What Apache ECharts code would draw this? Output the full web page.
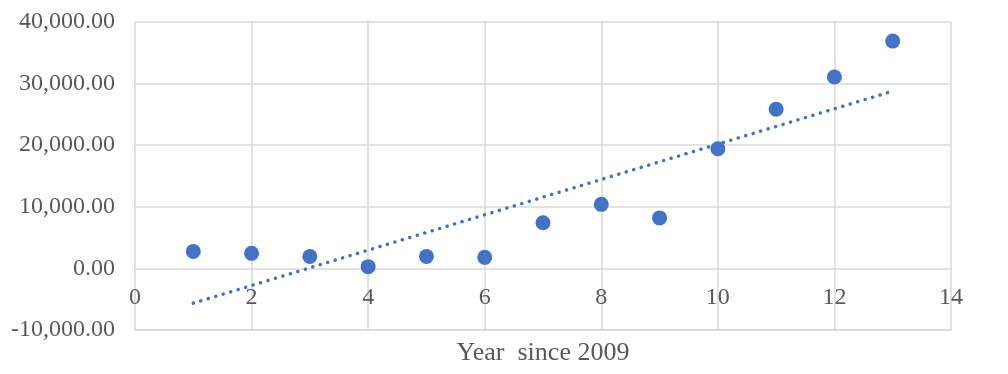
<!DOCTYPE html>
<html>
<head>
<meta charset="utf-8">
<script src="https://cdn.jsdelivr.net/npm/echarts@6/dist/echarts.min.js"></script>
<style>html,body{margin:0;padding:0;background:#fff;}#c{width:1008px;height:374px;}</style>
</head>
<body>
<div id="c"></div>
<script>
var years = [1, 2, 3, 4, 5, 6, 7, 8, 9, 10, 11, 12, 13];
var values = [2760, 2440, 1950, 280, 1950, 1790, 7400, 10400, 8200, 19430, 25850, 31060, 36900];
var xAxisName = 'Year  since 2009';

function fmt(v) {
  var neg = v < 0; var a = Math.abs(v);
  var s = Math.round(a).toString().replace(/\B(?=(\d{3})+(?!\d))/g, ',');
  return (neg ? '-' : '') + s + '.00';
}
// linear trendline (least squares) from the data
var n = years.length, mx = 0, my = 0;
for (var i = 0; i < n; i++) { mx += years[i]; my += values[i]; }
mx /= n; my /= n;
var sxy = 0, sxx = 0;
for (var i = 0; i < n; i++) { sxy += (years[i]-mx)*(values[i]-my); sxx += (years[i]-mx)*(years[i]-mx); }
var slope = sxy / sxx, icpt = my - slope * mx;
var trend = [[years[0], icpt + slope*years[0]], [years[n-1], icpt + slope*years[n-1]]];

var font = 'Liberation Serif, Times New Roman, serif';
var chart = echarts.init(document.getElementById('c'));
chart.setOption({
  animation: false,
  grid: { left: 135, right: 57, top: 22, bottom: 44, outerBoundsMode: 'none', containLabel: false },
  xAxis: {
    type: 'value', min: 0, max: 14, interval: 2,
    name: xAxisName, nameLocation: 'middle', nameGap: 10, nameMoveOverlap: false,
    nameTextStyle: { fontFamily: font, fontSize: 26, color: '#595959' },
    axisLine: { onZero: false, lineStyle: { color: '#d9d9d9', width: 1.5 } },
    axisTick: { show: false },
    axisLabel: { fontFamily: font, fontSize: 24, color: '#595959', margin: -44 },
    splitLine: { show: true, lineStyle: { color: '#d9d9d9', width: 1.5 } }
  },
  yAxis: {
    type: 'value', min: -10000, max: 40000, interval: 10000,
    axisLine: { show: false }, axisTick: { show: false },
    axisLabel: { fontFamily: font, fontSize: 24, color: '#595959', margin: 20, formatter: fmt },
    splitLine: { show: true, lineStyle: { color: '#d9d9d9', width: 1.5 } }
  },
  series: [
    {
      type: 'line', data: trend, symbol: 'none', z: 1,
      lineStyle: { color: '#4472C4', width: 3.5, type: [0.1, 7.7], cap: 'round' }
    },
    {
      type: 'scatter', data: years.map(function(x, i){ return [x, values[i]]; }),
      symbolSize: 15, itemStyle: { color: '#4472C4', opacity: 1 }, z: 2
    }
  ]
});
</script>
</body>
</html>
